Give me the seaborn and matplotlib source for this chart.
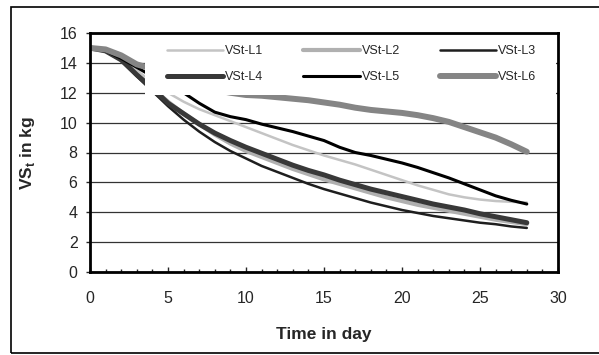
import matplotlib
matplotlib.use("Agg")
import matplotlib.pyplot as plt
from matplotlib.patches import Rectangle
from matplotlib.ticker import MultipleLocator
import pandas as pd
import seaborn as sns

days = list(range(29))

vst_l1 = [15.0, 14.8, 14.3, 13.5, 12.7, 12.0, 11.4, 10.9, 10.5, 10.1, 9.7, 9.3, 8.9, 8.5, 8.15,
          7.8, 7.5, 7.2, 6.85, 6.5, 6.15, 5.8, 5.5, 5.2, 5.0, 4.85, 4.75, 4.7, 4.65]
vst_l2 = [15.0, 14.8, 14.2, 13.2, 12.3, 11.4, 10.6, 9.9, 9.2, 8.6, 8.1, 7.7, 7.3, 6.9, 6.55,
          6.2, 5.9, 5.6, 5.3, 5.0, 4.75, 4.5, 4.3, 4.1, 3.9, 3.7, 3.5, 3.35, 3.2]
vst_l3 = [15.0, 14.8, 14.2, 13.1, 12.1, 11.1, 10.2, 9.4, 8.7, 8.1, 7.6, 7.1, 6.7, 6.3, 5.9,
          5.55, 5.25, 4.95, 4.65, 4.4, 4.15, 3.95, 3.75, 3.6, 3.45, 3.3, 3.2, 3.05, 2.95]
vst_l4 = [15.0, 14.8, 14.2, 13.2, 12.3, 11.3, 10.6, 9.9, 9.3, 8.8, 8.35, 7.95, 7.55, 7.15, 6.8,
          6.5, 6.15, 5.85, 5.55, 5.3, 5.05, 4.8, 4.55, 4.35, 4.15, 3.9, 3.7, 3.5, 3.3]
vst_l5 = [15.0, 14.8, 14.3, 13.7, 13.1, 12.5, 12.0, 11.3, 10.7, 10.4, 10.2, 9.9, 9.65, 9.4, 9.1,
          8.8, 8.35, 8.0, 7.8, 7.55, 7.3, 7.0, 6.65, 6.3, 5.9, 5.5, 5.1, 4.8, 4.55]
vst_l6 = [15.0, 14.9, 14.5, 13.9, 13.6, 13.2, 12.8, 12.5, 12.2, 12.0, 11.85, 11.8, 11.7, 11.6, 11.5,
          11.35, 11.2, 11.0, 10.85, 10.75, 10.65, 10.5, 10.3, 10.05, 9.7, 9.35, 9.0, 8.55, 8.05]

names = ["VSt-L1", "VSt-L2", "VSt-L3", "VSt-L4", "VSt-L5", "VSt-L6"]
series = [vst_l1, vst_l2, vst_l3, vst_l4, vst_l5, vst_l6]
colors = ["#c4c4c4", "#b0b0b0", "#1e1e1e", "#383838", "#000000", "#858585"]
widths = [1.8, 3.0, 1.8, 3.6, 2.2, 4.3]

df = pd.DataFrame({"day": days * 6,
                   "vs": sum(series, []),
                   "line": [n for n in names for _ in days]})

sns.set_style("white")
plt.rcParams["font.family"] = ["Liberation Sans", "DejaVu Sans"]
plt.rcParams["mathtext.fontset"] = "custom"
plt.rcParams["mathtext.bf"] = "Liberation Sans:bold"
plt.rcParams["mathtext.rm"] = "Liberation Sans"

fig = plt.figure(figsize=(5.99, 3.55), dpi=100)
ax = fig.add_axes([90 / 599, 1 - 272 / 355, 468 / 599, 239 / 355])

for name, col, lw in zip(names, colors, widths):
    sns.lineplot(data=df[df["line"] == name], x="day", y="vs", color=col,
                 linewidth=lw, label=name, ax=ax, legend=False)

ax.set_xlim(0, 30)
ax.set_ylim(0, 16)
ax.xaxis.set_major_locator(MultipleLocator(5))
ax.xaxis.set_minor_locator(MultipleLocator(1))
ax.yaxis.set_major_locator(MultipleLocator(2))
ax.grid(axis="y", color="#333333", linewidth=0.9)
ax.set_axisbelow(True)
for s in ax.spines.values():
    s.set_linewidth(2.0)
    s.set_color("black")
ax.tick_params(axis="x", which="major", direction="in", length=3.5, width=1, pad=14,
               labelsize=11.5, bottom=True)
ax.tick_params(axis="x", which="minor", direction="in", length=2.5, width=1, bottom=True)
ax.tick_params(axis="y", which="major", direction="out", length=3, width=1, pad=6,
               labelsize=11.5, left=True)

ax.set_xlabel("Time in day", fontsize=12.5, fontweight="bold")
ax.set_ylabel(r"VS$_{\mathbf{t}}$ in kg", fontsize=12.5, fontweight="bold")
ax.xaxis.set_label_coords(0.5, -0.23)
ax.yaxis.set_label_coords(-0.113, 0.5)

# white legend area covering the lines
ax.add_patch(Rectangle((0.1175, 0.741), 0.878, 0.252, transform=ax.transAxes,
                       facecolor="white", edgecolor="none", zorder=5))

lines = {l.get_label(): l for l in ax.get_lines()}
order = ["VSt-L1", "VSt-L4", "VSt-L2", "VSt-L5", "VSt-L3", "VSt-L6"]
leg = ax.legend([lines[n] for n in order], order, ncol=3, loc="upper left",
                bbox_to_anchor=(0.1645, 0.948), frameon=False, fontsize=9,
                handlelength=4.5, handletextpad=0.15, columnspacing=3.2,
                labelspacing=1.1, borderpad=0, borderaxespad=0)
leg.set_zorder(6)

fig.add_artist(Rectangle((11 / 599, 1 - 353 / 355), 1.0, (353 - 7) / 355,
                         transform=fig.transFigure, facecolor="none",
                         edgecolor="black", linewidth=1.2))

fig.savefig("out.png", dpi=100)
